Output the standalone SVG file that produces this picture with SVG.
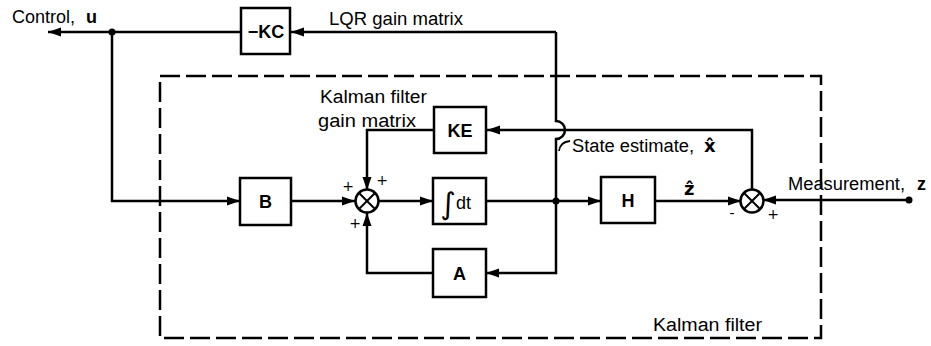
<svg xmlns="http://www.w3.org/2000/svg" width="931" height="346" viewBox="0 0 931 346">
<defs>
<marker id="arr" markerUnits="userSpaceOnUse" markerWidth="14" markerHeight="10" refX="13" refY="5" orient="auto">
<path d="M0,0.5 L13,5 L0,9.5 z" fill="#000"/>
</marker>
<style>
.ln{fill:none;stroke:#000;stroke-width:2.5;stroke-linejoin:miter}
.bx{fill:#fff;stroke:#000;stroke-width:2.5}
.dash{fill:none;stroke:#000;stroke-width:2.5;stroke-dasharray:20 6}
.t{font-family:"Liberation Sans","DejaVu Sans",sans-serif;font-size:18px;fill:#000}
.v{font-family:"DejaVu Sans",sans-serif;font-size:18px;font-weight:bold;fill:#000}
.b{font-family:"Liberation Sans","DejaVu Sans",sans-serif;font-size:18px;font-weight:bold;fill:#000;text-anchor:middle}
.s{font-family:"DejaVu Sans",sans-serif;font-size:14px;fill:#000;text-anchor:middle}
.dot{fill:#000}
</style>
</defs>
<rect width="931" height="346" fill="#fff"/>

<g id="kalman-boundary">
<rect class="dash" x="160" y="76" width="661" height="262"/>
<text class="t" x="653" y="331" textLength="109" lengthAdjust="spacingAndGlyphs">Kalman filter</text>
</g>

<g id="connectors">
<path class="ln" d="M556,32 H291" marker-end="url(#arr)"/>
<path class="ln" d="M241,32 H48" marker-end="url(#arr)"/>
<path class="ln" d="M112,32 V201 H240" marker-end="url(#arr)"/>
<path class="ln" d="M291,201 H355" marker-end="url(#arr)"/>
<path class="ln" d="M378,201 H433" marker-end="url(#arr)"/>
<path class="ln" d="M486,201 H601" marker-end="url(#arr)"/>
<path class="ln" d="M655,201 H741" marker-end="url(#arr)"/>
<path class="ln" d="M909,200 H763" marker-end="url(#arr)"/>
<path class="ln" d="M752,190 V130 H487" marker-end="url(#arr)"/>
<path class="ln" d="M434,130 H367 V190" marker-end="url(#arr)"/>
<path class="ln" d="M556,32 V121 A9,9 0 0 1 556,139 V273 H486" marker-end="url(#arr)"/>
<path class="ln" d="M433,273 H367 V213" marker-end="url(#arr)"/>
<circle class="dot" cx="112" cy="32" r="3.5"/>
<circle class="dot" cx="556" cy="201" r="3.5"/>
<circle class="dot" cx="909" cy="200" r="3.5"/>
<path d="M559,151 Q560,142 570,141" fill="none" stroke="#000" stroke-width="1.8"/>
</g>

<g id="labels">
<text class="t" x="12" y="23" textLength="63" lengthAdjust="spacingAndGlyphs">Control,</text>
<text class="t" x="86" y="23" font-weight="bold">u</text>
<text class="t" x="329" y="25" textLength="134" lengthAdjust="spacingAndGlyphs">LQR gain matrix</text>
<text class="t" x="320" y="103" textLength="107" lengthAdjust="spacingAndGlyphs">Kalman filter</text>
<text class="t" x="318" y="127" textLength="98" lengthAdjust="spacingAndGlyphs">gain matrix</text>
<text class="t" x="572" y="152" textLength="122" lengthAdjust="spacingAndGlyphs">State estimate,</text>
<text class="v" x="704" y="152">x̂</text>
<text class="v" x="684" y="195">ẑ</text>
<text class="t" x="788" y="190" textLength="117" lengthAdjust="spacingAndGlyphs">Measurement,</text>
<text class="t" x="917" y="190" font-weight="bold">z</text>
</g>

<g id="node-KC">
<rect class="bx" x="241" y="8" width="49" height="46"/>
<text class="b" x="266" y="38">−KC</text>
</g>
<g id="node-B">
<rect class="bx" x="240" y="178" width="51" height="47"/>
<text class="b" x="265.5" y="208">B</text>
</g>
<g id="node-KE">
<rect class="bx" x="434" y="107" width="52" height="46"/>
<text class="b" x="460" y="137">KE</text>
</g>
<g id="node-integrator">
<rect class="bx" x="433" y="178" width="53" height="46"/>
<text x="448" y="214" font-family="DejaVu Sans, sans-serif" font-size="30" text-anchor="middle">∫</text>
<text class="t" x="456" y="209">dt</text>
</g>
<g id="node-H">
<rect class="bx" x="601" y="177" width="54" height="46"/>
<text class="b" x="628" y="207">H</text>
</g>
<g id="node-A">
<rect class="bx" x="433" y="249" width="53" height="48"/>
<text class="b" x="459.5" y="280">A</text>
</g>

<g id="sum-1">
<circle cx="367" cy="201" r="11.5" fill="#fff" stroke="#000" stroke-width="2.5"/>
<path d="M359,193 L375,209 M375,193 L359,209" stroke="#000" stroke-width="2"/>
<text class="s" x="348" y="191">+</text>
<text class="s" x="382" y="185">+</text>
<text class="s" x="355" y="228">+</text>
</g>
<g id="sum-2">
<circle cx="752" cy="201" r="11.5" fill="#fff" stroke="#000" stroke-width="2.5"/>
<path d="M744,193 L760,209 M760,193 L744,209" stroke="#000" stroke-width="2"/>
<text class="s" x="732" y="218">-</text>
<text class="s" x="773" y="219">+</text>
</g>
</svg>
